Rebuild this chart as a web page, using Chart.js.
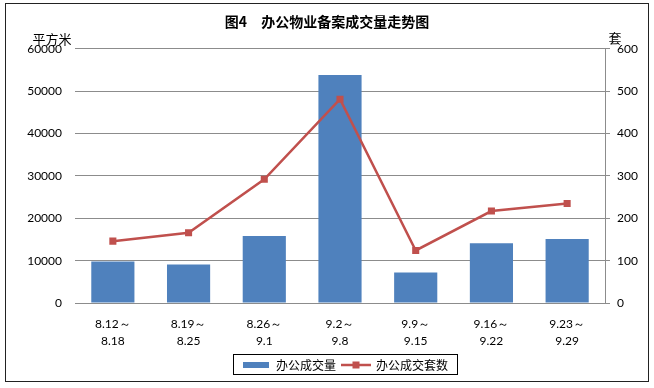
<!DOCTYPE html>
<html>
<head>
<meta charset="utf-8">
<script src="https://cdn.jsdelivr.net/npm/chart.js@4.4.1/dist/chart.umd.min.js"></script>
<style>
  html, body { margin: 0; padding: 0; background: #fff; }
  #wrap { width: 654px; height: 388px; }
</style>
</head>
<body>
<div id="wrap"><canvas id="chart" width="654" height="388"></canvas></div>
<script>
// data
var weeks = [["8.12～", "8.18"], ["8.19～", "8.25"], ["8.26～", "9.1"], ["9.2～", "9.8"],
             ["9.9～", "9.15"], ["9.16～", "9.22"], ["9.23～", "9.29"]];
var area = [9800, 9100, 15800, 53800, 7200, 14100, 15100];   // 办公成交量 (平方米)
var units = [146, 166, 292, 481, 124, 217, 235];              // 办公成交套数 (套)
var leftTicks = [0, 10000, 20000, 30000, 40000, 50000, 60000];
var rightTicks = [0, 100, 200, 300, 400, 500, 600];

var blue = '#4F81BD';
var red = '#C0504D';
var gridGray = '#8C8C8C';
var numFont = 'Lato, "Open Sans", sans-serif';
var cjkFont = '"Noto Sans CJK SC", sans-serif';

// little pictures for the legend
function barIcon() {
    var c = document.createElement('canvas');
    c.width = 26; c.height = 6;
    var g = c.getContext('2d');
    g.fillStyle = blue;
    g.fillRect(0, 0, 26, 6);
    return c;
}
function lineIcon() {
    var c = document.createElement('canvas');
    c.width = 30; c.height = 8;
    var g = c.getContext('2d');
    g.strokeStyle = red;
    g.lineWidth = 2.5;
    g.beginPath(); g.moveTo(0, 4); g.lineTo(30, 4); g.stroke();
    g.fillStyle = red;
    g.fillRect(11.5, 0.5, 7, 7);
    return c;
}

var framePlugin = {
    id: 'frame',
    afterLayout: function(chart) {
        // legend sits a bit right of centre in the original
        chart.legend.left += 18;
        chart.legend.right += 18;
    },
    beforeDraw: function(chart) {
        var ctx = chart.ctx;
        ctx.save();
        ctx.fillStyle = '#fff';
        ctx.fillRect(0, 0, chart.width, chart.height);
        ctx.strokeStyle = '#222';
        ctx.lineWidth = 1;
        ctx.strokeRect(5.5, 3.5, 643, 378);
        ctx.restore();
    },
    afterDraw: function(chart) {
        var ctx = chart.ctx;
        ctx.save();
        // axis units
        ctx.fillStyle = '#000';
        ctx.font = '13px ' + cjkFont;
        ctx.textBaseline = 'middle';
        ctx.textAlign = 'center';
        ctx.fillText('平方米', 52, 39);
        ctx.fillText('套', 615, 38);
        // legend box
        var boxes = chart.legend.legendHitBoxes;
        if (boxes && boxes.length) {
            var l = boxes[0].left, r = boxes[boxes.length - 1].left + boxes[boxes.length - 1].width;
            var cy = boxes[0].top + boxes[0].height / 2;
            ctx.strokeStyle = '#000';
            ctx.lineWidth = 1;
            ctx.strokeRect(Math.round(l) - 8.5, Math.round(cy) - 10.5, Math.round(r - l) + 18, 20);
        }
        ctx.restore();
    }
};

new Chart(document.getElementById('chart'), {
    type: 'bar',
    data: {
        labels: weeks,
        datasets: [{
            type: 'bar',
            label: '办公成交量',
            data: area,
            yAxisID: 'y',
            backgroundColor: blue,
            borderWidth: 0,
            categoryPercentage: 1,
            barPercentage: 0.57,
            order: 2
        }, {
            type: 'line',
            label: '办公成交套数',
            data: units,
            yAxisID: 'y1',
            borderColor: red,
            borderWidth: 2.5,
            pointStyle: 'rect',
            pointRadius: 5,
            pointBackgroundColor: red,
            pointBorderColor: red,
            pointBorderWidth: 0,
            tension: 0,
            order: 1
        }]
    },
    options: {
        responsive: false,
        animation: false,
        layout: { padding: { left: 0, right: 0, top: 0, bottom: 7 } },
        plugins: {
            title: {
                display: true,
                text: '图4　办公物业备案成交量走势图',
                color: '#000',
                font: { family: cjkFont, size: 14, weight: 'bold' },
                padding: { top: 13, bottom: 19 }
            },
            legend: {
                display: true,
                position: 'bottom',
                labels: {
                    usePointStyle: true,
                    pointStyleWidth: 28,
                    padding: 6,
                    color: '#000',
                    font: { family: cjkFont, size: 12 },
                    generateLabels: function(chart) {
                        return [
                            { text: '办公成交量', pointStyle: barIcon(), datasetIndex: 0, lineWidth: 0, fontColor: '#000' },
                            { text: '办公成交套数', pointStyle: lineIcon(), datasetIndex: 1, lineWidth: 0, fontColor: '#000' }
                        ];
                    }
                }
            },
            tooltip: { enabled: false }
        },
        scales: {
            x: {
                grid: { display: false, drawTicks: false },
                border: { display: true, color: gridGray, width: 1 },
                ticks: {
                    color: '#000',
                    padding: 12,
                    maxRotation: 0,
                    autoSkip: false,
                    font: { family: numFont, size: 12, lineHeight: 1.45 }
                },
                afterFit: function(scale) { scale.height = 50; }
            },
            y: {
                position: 'left',
                min: 0,
                max: 60000,
                afterBuildTicks: function(scale) {
                    scale.ticks = leftTicks.map(function(v) { return { value: v }; });
                },
                grid: { color: gridGray, drawTicks: false },
                border: { display: false },
                ticks: {
                    color: '#000',
                    padding: 13,
                    font: { family: numFont, size: 12 },
                    callback: function(v) { return String(v); }
                },
                afterFit: function(scale) { scale.width = 75; }
            },
            y1: {
                position: 'right',
                min: 0,
                max: 600,
                afterBuildTicks: function(scale) {
                    scale.ticks = rightTicks.map(function(v) { return { value: v }; });
                },
                grid: { drawOnChartArea: false, drawTicks: true, tickLength: 5, color: gridGray },
                border: { display: true, color: gridGray, width: 1 },
                ticks: {
                    color: '#000',
                    padding: 7,
                    font: { family: numFont, size: 12 },
                    callback: function(v) { return String(v); }
                },
                afterFit: function(scale) { scale.width = 49; }
            }
        }
    },
    plugins: [framePlugin]
});
</script>
</body>
</html>
